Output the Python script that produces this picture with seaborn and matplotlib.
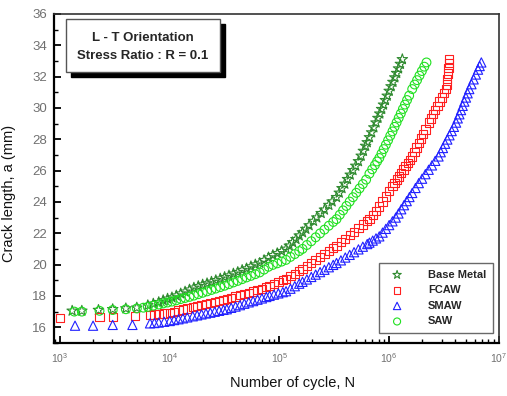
import numpy as np
import pandas as pd
import matplotlib
matplotlib.use("Agg")
import matplotlib.pyplot as plt
from matplotlib.patches import Rectangle
from matplotlib.ticker import LogLocator, MultipleLocator
import seaborn as sns

# ---------------- data ----------------
base_N = [1290, 1580, 2240, 3020, 3980, 5010, 6310, 7080, 7940, 8710, 9550,
          10470, 11480, 12590, 13800, 15140, 16600, 18200, 19950, 21880, 23990,
          26300, 28840, 31620, 34670, 38020, 41690, 45710, 50120, 54950, 60260,
          66070, 72440, 79430, 87100, 95500, 104700, 114800, 123000, 131800,
          141300, 151400, 162200, 173800, 186200, 204200, 218800, 239900,
          257000, 281800, 302000, 331100, 350800, 371500, 393600, 416900,
          441600, 467700, 495500, 524800, 555900, 582100, 609500, 631000,
          660700, 691800, 724400, 758600, 788900, 820400, 853100, 887200,
          922600, 959400, 1000000, 1040000, 1081000, 1125000, 1169000,
          1216000, 1265000, 1318000]
base_a = [17.05, 17.05, 17.10, 17.15, 17.20, 17.25, 17.40, 17.50, 17.60, 17.72,
          17.82, 17.90, 18.02, 18.15, 18.27, 18.40, 18.52, 18.62, 18.72, 18.80,
          18.90, 19.00, 19.10, 19.20, 19.30, 19.42, 19.52, 19.65, 19.75, 19.88,
          20.00, 20.10, 20.28, 20.45, 20.60, 20.72, 20.86, 21.00, 21.20, 21.42,
          21.62, 21.85, 22.05, 22.27, 22.50, 22.78, 23.00, 23.28, 23.50, 23.80,
          24.02, 24.30, 24.58, 24.87, 25.15, 25.45, 25.73, 26.02, 26.30, 26.59,
          26.94, 27.25, 27.57, 27.80, 28.12, 28.43, 28.75, 29.06, 29.35, 29.63,
          29.92, 30.20, 30.49, 30.77, 31.08, 31.37, 31.65, 31.94, 32.22, 32.51,
          32.80, 33.10]

fcaw_N = [1000, 2290, 3020, 4790, 6610, 7240, 7940, 8910, 10000, 10960, 12020,
          13180, 14450, 16220, 17780, 19500, 21380, 23440, 25700, 28180, 30900,
          33110, 36310, 39810, 43650, 47860, 52480, 57540, 63100, 69180, 75860,
          81280, 89130, 97720, 107200, 114800, 125900, 138000, 151400, 162200,
          177800, 195000, 213800, 234400, 257000, 281800, 309000, 331100,
          363100, 398100, 436500, 478600, 524800, 575400, 631000, 660700,
          707900, 758600, 812800, 871000, 933300, 1000000, 1072000, 1122000,
          1175000, 1230000, 1288000, 1349000, 1413000, 1479000, 1549000,
          1622000, 1698000, 1778000, 1862000, 1950000, 2042000, 2138000,
          2291000, 2399000, 2512000, 2630000, 2754000, 2884000, 3020000,
          3162000, 3311000, 3350000, 3388000, 3428000, 3467000, 3508000,
          3532000]
fcaw_a = [16.60, 16.65, 16.65, 16.70, 16.80, 16.82, 16.85, 16.88, 16.90, 16.98,
          17.06, 17.13, 17.20, 17.30, 17.37, 17.43, 17.50, 17.56, 17.63, 17.69,
          17.75, 17.80, 17.88, 17.96, 18.04, 18.12, 18.20, 18.28, 18.36, 18.45,
          18.57, 18.65, 18.77, 18.89, 19.01, 19.10, 19.26, 19.42, 19.58, 19.70,
          19.89, 20.09, 20.28, 20.47, 20.67, 20.86, 21.05, 21.20, 21.43, 21.65,
          21.88, 22.10, 22.33, 22.56, 22.78, 22.90, 23.17, 23.43, 23.70, 24.03,
          24.35, 24.68, 25.00, 25.21, 25.42, 25.63, 25.84, 26.06, 26.27, 26.48,
          26.69, 26.90, 27.19, 27.48, 27.76, 28.05, 28.34, 28.63, 29.06, 29.33,
          29.60, 29.86, 30.13, 30.40, 30.66, 30.93, 31.20, 31.50, 31.85, 32.20,
          32.55, 32.85, 33.10]

smaw_N = [1370, 2000, 3020, 4570, 6610, 7240, 7940, 8910, 10000, 10960, 12020,
          13180, 14450, 16220, 17780, 19500, 21380, 23440, 25700, 28180, 30900,
          33110, 36310, 39810, 43650, 47860, 52480, 57540, 63100, 69180, 75860,
          81280, 89130, 97720, 107200, 114800, 125900, 138000, 151400, 162200,
          177800, 195000, 213800, 234400, 257000, 281800, 309000, 331100,
          363100, 398100, 436500, 478600, 524800, 575400, 631000, 660700,
          707900, 758600, 812800, 871000, 933300, 1000000, 1072000, 1148000,
          1216000, 1288000, 1365000, 1445000, 1531000, 1622000, 1738000,
          1862000, 1995000, 2138000, 2291000, 2455000, 2630000, 2818000,
          2951000, 3090000, 3236000, 3388000, 3548000, 3715000, 3890000,
          4074000, 4217000, 4365000, 4519000, 4677000, 4842000, 5012000,
          5188000, 5370000, 5623000, 5888000, 6166000, 6457000, 6683000,
          6918000]
smaw_a = [16.10, 16.10, 16.15, 16.15, 16.25, 16.27, 16.30, 16.35, 16.40, 16.46,
          16.51, 16.57, 16.63, 16.70, 16.76, 16.82, 16.88, 16.93, 16.99, 17.05,
          17.11, 17.15, 17.24, 17.32, 17.41, 17.50, 17.59, 17.67, 17.76, 17.84,
          17.93, 18.00, 18.08, 18.16, 18.24, 18.30, 18.46, 18.62, 18.78, 18.90,
          19.05, 19.21, 19.36, 19.52, 19.67, 19.83, 19.98, 20.10, 20.27, 20.45,
          20.62, 20.79, 20.97, 21.14, 21.31, 21.40, 21.53, 21.67, 21.80, 22.04,
          22.28, 22.52, 22.76, 23.00, 23.26, 23.53, 23.79, 24.05, 24.31, 24.57,
          24.89, 25.20, 25.48, 25.77, 26.05, 26.33, 26.62, 26.90, 27.17, 27.44,
          27.71, 27.98, 28.25, 28.52, 28.79, 29.06, 29.33, 29.59, 29.86, 30.13,
          30.40, 30.66, 30.93, 31.20, 31.51, 31.82, 32.13, 32.44, 32.67, 32.90]

saw_N = [1350, 1580, 2290, 3020, 3980, 5010, 5750, 6310, 7080, 7940, 8710, 9550,
         10470, 11480, 12590, 13800, 15140, 16600, 18200, 19950, 21880, 23990,
         26300, 28840, 31620, 34670, 38020, 41690, 45710, 50120, 54950, 60260,
         66070, 72440, 79430, 87100, 95500, 104700, 114800, 125900, 138000,
         151400, 162200, 177800, 195000, 213800, 234400, 257000, 281800,
         309000, 331100, 354800, 380200, 407400, 436500, 467700, 501200,
         537000, 575400, 616600, 660700, 699800, 741300, 776200, 812800,
         851100, 891300, 933300, 977200, 1023000, 1072000, 1119000, 1169000,
         1222000, 1276000, 1334000, 1393000, 1455000, 1521000, 1622000,
         1706000, 1795000, 1888000, 1986000, 2089000, 2188000]
saw_a = [17.00, 17.00, 17.05, 17.10, 17.15, 17.20, 17.25, 17.30, 17.38, 17.45,
         17.52, 17.58, 17.64, 17.72, 17.80, 17.87, 17.94, 18.02, 18.11, 18.20,
         18.29, 18.38, 18.47, 18.56, 18.65, 18.75, 18.86, 18.96, 19.07, 19.18,
         19.28, 19.39, 19.50, 19.68, 19.86, 19.98, 20.08, 20.19, 20.30, 20.49,
         20.67, 20.86, 21.00, 21.25, 21.49, 21.74, 21.99, 22.23, 22.48, 22.72,
         22.90, 23.18, 23.46, 23.74, 24.02, 24.30, 24.58, 24.86, 25.14, 25.42,
         25.80, 26.08, 26.35, 26.58, 26.80, 27.08, 27.37, 27.65, 27.93, 28.22,
         28.50, 28.79, 29.07, 29.36, 29.64, 29.93, 30.21, 30.50, 30.78, 31.20,
         31.49, 31.77, 32.06, 32.35, 32.63, 32.90]

series_names = ["Base Metal", "FCAW", "SMAW", "SAW"]
series_N = [base_N, fcaw_N, smaw_N, saw_N]
series_a = [base_a, fcaw_a, smaw_a, saw_a]
series_colors = ["#2f8a2f", "#ff2020", "#2020ff", "#20e020"]
series_markers = ["*", "s", "^", "o"]
series_sizes = [62, 36, 44, 40]

x_ticks = [1e3, 1e4, 1e5, 1e6, 1e7]
y_ticks = list(range(16, 37, 2))

# ---------------- figure ----------------
sns.set_style("white")
plt.rcParams["font.family"] = ["Liberation Sans", "DejaVu Sans"]
plt.rcParams["mathtext.fontset"] = "custom"
plt.rcParams["mathtext.rm"] = "Liberation Sans"
plt.rcParams["mathtext.it"] = "Liberation Sans:italic"
plt.rcParams["mathtext.bf"] = "Liberation Sans:bold"

fig = plt.figure(figsize=(5.07, 3.96), dpi=100)
ax = fig.add_axes([0.1065, 0.134, 0.8775, 0.831])

frames = []
for name, N, a in zip(series_names, series_N, series_a):
    frames.append(pd.DataFrame({"N": N, "a": a, "series": name}))
df = pd.concat(frames, ignore_index=True)

for name, col, mk, sz in zip(series_names, series_colors, series_markers, series_sizes):
    sub = df[df["series"] == name]
    sns.scatterplot(data=sub, x="N", y="a", ax=ax, marker=mk, s=sz,
                    color=col, facecolor="none", edgecolor=col,
                    linewidth=0.8, label=name, zorder=3)

ax.set_xscale("log")
ax.set_xlim(10 ** 2.945, 1e7)
ax.set_ylim(15, 36)
ax.set_xticks(x_ticks)
ax.xaxis.set_minor_locator(LogLocator(base=10, subs=np.arange(2, 10), numticks=20))
ax.set_yticks(y_ticks)
ax.yaxis.set_minor_locator(MultipleLocator(1))

ax.tick_params(axis="both", which="major", direction="in", length=5, width=1.3,
               color="black", labelcolor="#707070", pad=5,
               top=False, right=False, bottom=True, left=True)
ax.tick_params(axis="y", which="major", labelsize=9.5)
ax.tick_params(axis="x", which="major", labelsize=7.5, pad=6)
ax.tick_params(axis="both", which="minor", direction="in", length=3, width=1.0,
               color="black", top=False, right=False, bottom=True, left=True)

for side in ["left", "bottom"]:
    ax.spines[side].set_linewidth(1.6)
    ax.spines[side].set_color("black")
for side in ["top", "right"]:
    ax.spines[side].set_linewidth(1.2)
    ax.spines[side].set_color("#333333")

ax.set_xlabel("Number of cycle, N", fontsize=10.5, color="#111111")
ax.set_ylabel("Crack length, a (mm)", fontsize=10.5, color="#111111")
ax.xaxis.set_label_coords(0.537, -0.1)
ax.yaxis.set_label_coords(-0.085, 0.453)

# annotation box with drop shadow
bx0, by0, bw, bh = 0.027, 0.824, 0.346, 0.161
ax.add_patch(Rectangle((bx0 + 0.011, by0 - 0.015), bw, bh, transform=ax.transAxes,
                       facecolor="black", edgecolor="black", zorder=5, clip_on=False))
ax.add_patch(Rectangle((bx0, by0), bw, bh, transform=ax.transAxes,
                       facecolor="white", edgecolor="#555555", linewidth=1.0,
                       zorder=6, clip_on=False))
ax.text(0.2, 0.927, "L - T Orientation", transform=ax.transAxes, ha="center",
        va="center", fontsize=9.5, fontweight="bold", zorder=7)
ax.text(0.2, 0.872, "Stress Ratio : R = 0.1", transform=ax.transAxes, ha="center",
        va="center", fontsize=9.5, fontweight="bold", zorder=7)

leg = ax.legend(loc="lower right", bbox_to_anchor=(0.987, 0.030), frameon=True,
                fancybox=False, edgecolor="#444444",
                prop={"weight": "bold", "size": 8}, markerscale=0.8,
                handletextpad=1.8, borderpad=0.6, labelspacing=0.5,
                borderaxespad=0.0)
leg.get_frame().set_linewidth(1.0)
leg.set_zorder(8)

fig.savefig("out.png", dpi=100)
